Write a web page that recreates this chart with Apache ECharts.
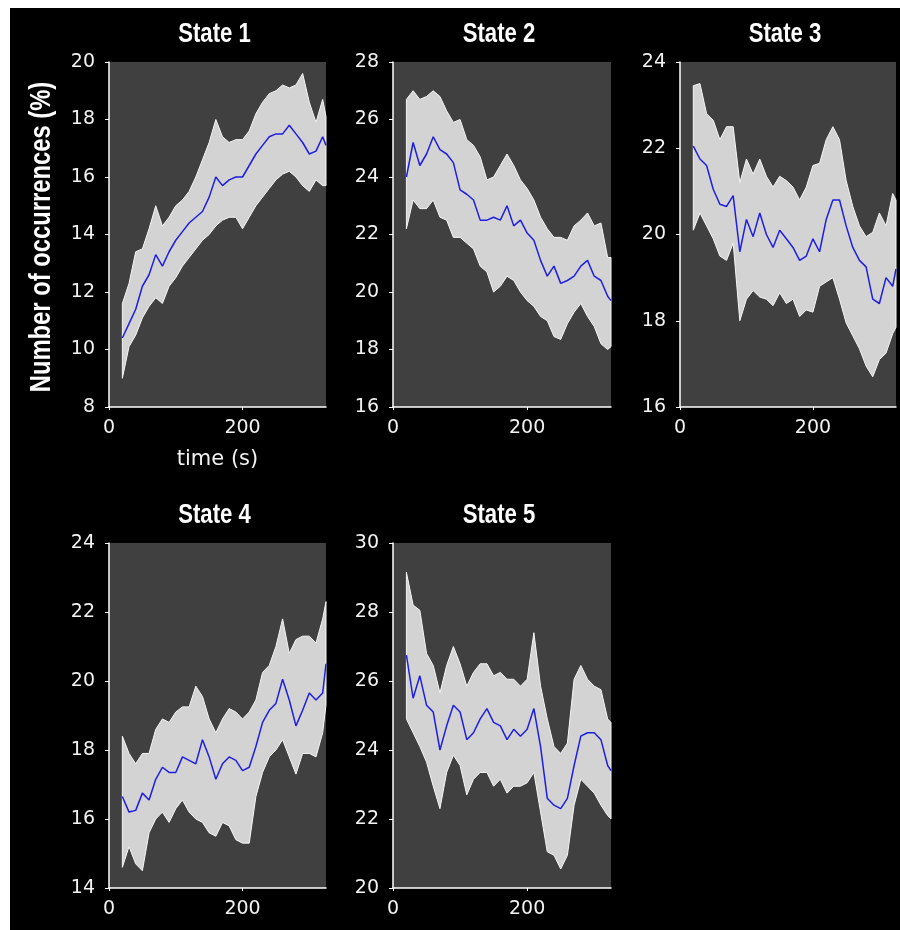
<!DOCTYPE html>
<html>
<head>
<meta charset="utf-8">
<title>States</title>
<script src="https://cdn.jsdelivr.net/npm/echarts@6/dist/echarts.min.js"></script>
<style>
  html, body { margin: 0; padding: 0; background: #fff; }
  #frame { position: absolute; left: 10px; top: 8px; width: 890px; height: 922px; background: #000; }
  #chart { position: absolute; left: 0; top: 0; width: 900px; height: 930px; }
</style>
</head>
<body>
<div id="frame"></div>
<div id="chart"></div>
<script>
// time (s) of each sample
var times = [20, 30, 40, 50, 60, 70, 80, 90, 100, 110, 120, 130, 140, 150, 160, 170,
	180, 190, 200, 210, 220, 230, 240, 250, 260, 270, 280, 290, 300, 310, 320, 325];

var stateNames = ['State 1', 'State 2', 'State 3', 'State 4', 'State 5'];

// y ranges and ticks of each panel
var yMins = [8, 16, 16, 14, 20];
var yMaxs = [20, 28, 24, 24, 30];

var s1Mean = [10.4, 10.9, 11.4, 12.2, 12.6, 13.3, 12.9, 13.4, 13.8, 14.1, 14.4, 14.6, 14.8, 15.3, 16.0, 15.7,
	15.9, 16.0, 16.0, 16.4, 16.8, 17.1, 17.4, 17.5, 17.5, 17.8, 17.5, 17.2, 16.8, 16.9, 17.4, 17.1];
var s1Upper = [11.6, 12.3, 13.4, 13.5, 14.2, 15.0, 14.3, 14.6, 15.0, 15.2, 15.5, 16.0, 16.6, 17.2, 18.0, 17.4,
	17.2, 17.3, 17.3, 17.6, 18.2, 18.6, 18.9, 19.0, 19.2, 19.1, 19.2, 19.6, 18.6, 17.9, 18.7, 18.1];
var s1Lower = [9.0, 10.1, 10.5, 11.1, 11.5, 11.8, 11.6, 12.2, 12.5, 12.9, 13.2, 13.5, 13.8, 14.0, 14.3, 14.5,
	14.6, 14.6, 14.2, 14.6, 15.0, 15.3, 15.6, 15.9, 16.1, 16.2, 16.0, 15.7, 15.5, 15.9, 15.7, 15.7];

var s2Mean = [24.0, 25.2, 24.4, 24.8, 25.4, 24.95, 24.8, 24.5, 23.55, 23.4, 23.2, 22.5, 22.5, 22.6, 22.5, 23.0,
	22.3, 22.5, 22.05, 21.8, 21.1, 20.55, 20.9, 20.3, 20.4, 20.55, 20.9, 21.1, 20.55, 20.4, 19.85, 19.7];
var s2Upper = [26.7, 27.0, 26.7, 26.8, 27.0, 26.8, 26.3, 25.9, 26.0, 25.3, 25.1, 24.7, 23.9, 24.0, 24.4, 24.8,
	24.4, 23.9, 23.6, 23.2, 22.6, 22.2, 21.9, 21.9, 21.8, 22.3, 22.5, 22.75, 22.3, 22.4, 21.2, 21.2];
var s2Lower = [22.2, 23.2, 22.9, 22.9, 23.2, 22.6, 22.5, 21.9, 21.9, 21.7, 21.5, 20.9, 20.7, 20.0, 20.2, 20.55,
	20.4, 20.0, 19.7, 19.5, 19.15, 19.0, 18.45, 18.35, 18.9, 19.3, 19.6, 19.15, 18.8, 18.2, 18.0, 18.1];

var s3Mean = [22.05, 21.75, 21.6, 21.05, 20.7, 20.65, 20.9, 19.6, 20.35, 19.95, 20.5, 20.0, 19.7, 20.1, 19.9, 19.7,
	19.4, 19.5, 19.9, 19.6, 20.35, 20.8, 20.8, 20.2, 19.7, 19.4, 19.25, 18.5, 18.4, 19.0, 18.8, 19.2];
var s3Upper = [23.45, 23.5, 22.8, 22.65, 22.2, 22.5, 22.5, 21.2, 21.75, 21.4, 21.75, 21.35, 21.1, 21.35, 21.25, 21.1,
	20.8, 21.1, 21.6, 21.65, 22.2, 22.5, 22.2, 21.25, 20.65, 20.2, 19.95, 20.05, 20.5, 20.2, 20.95, 20.8];
var s3Lower = [20.1, 20.5, 20.2, 19.9, 19.5, 19.4, 19.8, 18.0, 18.5, 18.7, 18.55, 18.5, 18.35, 18.65, 18.4, 18.5,
	18.1, 18.25, 18.2, 18.8, 18.9, 19.0, 18.5, 17.95, 17.65, 17.35, 16.95, 16.7, 17.1, 17.25, 17.7, 17.85];

var s4Mean = [16.65, 16.2, 16.25, 16.75, 16.55, 17.15, 17.5, 17.35, 17.35, 17.8, 17.7, 17.6, 18.3, 17.8, 17.15, 17.6,
	17.8, 17.7, 17.4, 17.5, 18.1, 18.8, 19.15, 19.35, 20.05, 19.45, 18.7, 19.15, 19.65, 19.45, 19.65, 20.5];
var s4Upper = [18.4, 17.9, 17.6, 17.9, 17.9, 18.6, 18.9, 18.8, 19.1, 19.25, 19.25, 19.85, 19.55, 18.9, 18.5, 18.9,
	19.2, 19.1, 18.9, 19.1, 19.45, 20.25, 20.45, 21.0, 21.8, 20.8, 21.2, 21.3, 21.3, 21.1, 21.8, 22.3];
var s4Lower = [14.6, 15.2, 14.7, 14.5, 15.6, 16.0, 16.2, 15.9, 16.3, 16.55, 16.2, 16.0, 15.9, 15.6, 15.5, 15.9,
	15.8, 15.4, 15.3, 15.3, 16.65, 17.35, 17.8, 18.0, 18.3, 17.8, 17.3, 17.9, 17.9, 17.8, 18.5, 19.3];

var s5Mean = [26.75, 25.5, 26.15, 25.3, 25.1, 24.0, 24.7, 25.3, 25.1, 24.3, 24.5, 24.9, 25.2, 24.8, 24.7, 24.3,
	24.6, 24.4, 24.6, 25.2, 24.1, 22.6, 22.4, 22.3, 22.6, 23.55, 24.4, 24.5, 24.5, 24.3, 23.55, 23.4];
var s5Upper = [29.15, 28.2, 28.05, 26.8, 26.45, 25.65, 26.45, 27.0, 26.5, 25.85, 26.25, 26.5, 26.5, 26.15, 26.25, 26.05,
	26.05, 25.85, 26.05, 27.4, 25.85, 24.9, 24.1, 23.9, 24.2, 26.05, 26.45, 26.05, 25.85, 25.75, 24.9, 24.8];
var s5Lower = [24.9, 24.5, 24.1, 23.65, 22.95, 22.3, 23.35, 23.85, 23.55, 22.7, 23.15, 23.35, 23.35, 22.95, 23.15, 22.75,
	22.95, 22.95, 23.05, 23.35, 22.2, 21.05, 20.95, 20.55, 20.95, 22.4, 23.15, 22.95, 22.75, 22.4, 22.1, 22.0];

var means = [s1Mean, s2Mean, s3Mean, s4Mean, s5Mean];
var uppers = [s1Upper, s2Upper, s3Upper, s4Upper, s5Upper];
var lowers = [s1Lower, s2Lower, s3Lower, s4Lower, s5Lower];

// panel boxes in px
var boxes = [
	{left: 109, top: 62, width: 217, height: 345},
	{left: 393, top: 62, width: 218, height: 345},
	{left: 680, top: 62, width: 216, height: 345},
	{left: 109, top: 543, width: 217, height: 345},
	{left: 393, top: 543, width: 218, height: 345}
];

var plotBg = '#404040';
var tickFont = 'DejaVu Sans';
var boldFont = "'Liberation Sans', Arial, sans-serif";

function pairs(ys) {
	var out = [];
	for (var i = 0; i < times.length; i++) {
		out.push([times[i], ys[i]]);
	}
	return out;
}

// min/max band as one polygon, placed with the axis scales
function bandRenderer(up, low) {
	return function(params, api) {
		var pts = [];
		for (var i = 0; i < times.length; i++) {
			pts.push(api.coord([times[i], up[i]]));
		}
		for (var j = times.length - 1; j >= 0; j--) {
			pts.push(api.coord([times[j], low[j]]));
		}
		return {
			type: 'polygon',
			shape: {points: pts},
			style: {fill: '#d3d3d3', stroke: '#f6f6f6', lineWidth: 1}
		};
	};
}

var grids = [], xAxes = [], yAxes = [], series = [], texts = [];

for (var p = 0; p < 5; p++) {
	var b = boxes[p];
	grids.push({
		left: b.left, top: b.top, width: b.width, height: b.height,
		show: true, backgroundColor: plotBg, borderWidth: 0
	});
	xAxes.push({
		type: 'value', gridIndex: p, min: 0, max: 325, interval: 200,
		splitLine: {show: false},
		axisLine: {show: true, lineStyle: {color: '#fff', width: 1.5}},
		axisTick: {show: true, length: 3, lineStyle: {color: '#fff'}},
		axisLabel: {color: '#f2f2f2', fontFamily: tickFont, fontSize: 19, margin: 12, showMaxLabel: false},
		name: p === 0 ? 'time (s)' : '',
		nameLocation: 'middle', nameGap: 42,
		nameTextStyle: {color: '#f2f2f2', fontFamily: tickFont, fontSize: 21}
	});
	yAxes.push({
		type: 'value', gridIndex: p, min: yMins[p], max: yMaxs[p], interval: 2,
		splitLine: {show: false},
		axisLine: {show: true, lineStyle: {color: '#fff', width: 1.5}},
		axisTick: {show: true, length: 4, lineStyle: {color: '#fff'}},
		axisLabel: {color: '#f2f2f2', fontFamily: tickFont, fontSize: 19, margin: 14}
	});

	series.push({
		type: 'custom', xAxisIndex: p, yAxisIndex: p, silent: true,
		data: [[times[0], lowers[p][0]]],
		encode: {x: 0, y: 1},
		renderItem: bandRenderer(uppers[p], lowers[p])
	});
	series.push({
		type: 'line', xAxisIndex: p, yAxisIndex: p,
		data: pairs(means[p]), symbol: 'none', silent: true,
		lineStyle: {color: '#1e1ee0', width: 1.5}
	});

	texts.push({
		type: 'text',
		x: b.left + b.width / 2 - 3, y: b.top - 27,
		scaleX: 0.82,
		style: {
			text: stateNames[p], fill: '#fff', align: 'center', verticalAlign: 'middle',
			font: 'bold 27px ' + boldFont
		}
	});
}

// y axis title, bold narrow, rotated
texts.push({
	type: 'text',
	x: 42, y: 237,
	rotation: Math.PI / 2,
	scaleX: 0.82,
	style: {
		text: 'Number of occurrences (%)', fill: '#fff', align: 'center', verticalAlign: 'middle',
		font: 'bold 29px ' + boldFont
	}
});

var myChart = echarts.init(document.getElementById('chart'));
myChart.setOption({
	animation: false,
	grid: grids,
	xAxis: xAxes,
	yAxis: yAxes,
	series: series,
	graphic: texts
});
</script>
</body>
</html>
